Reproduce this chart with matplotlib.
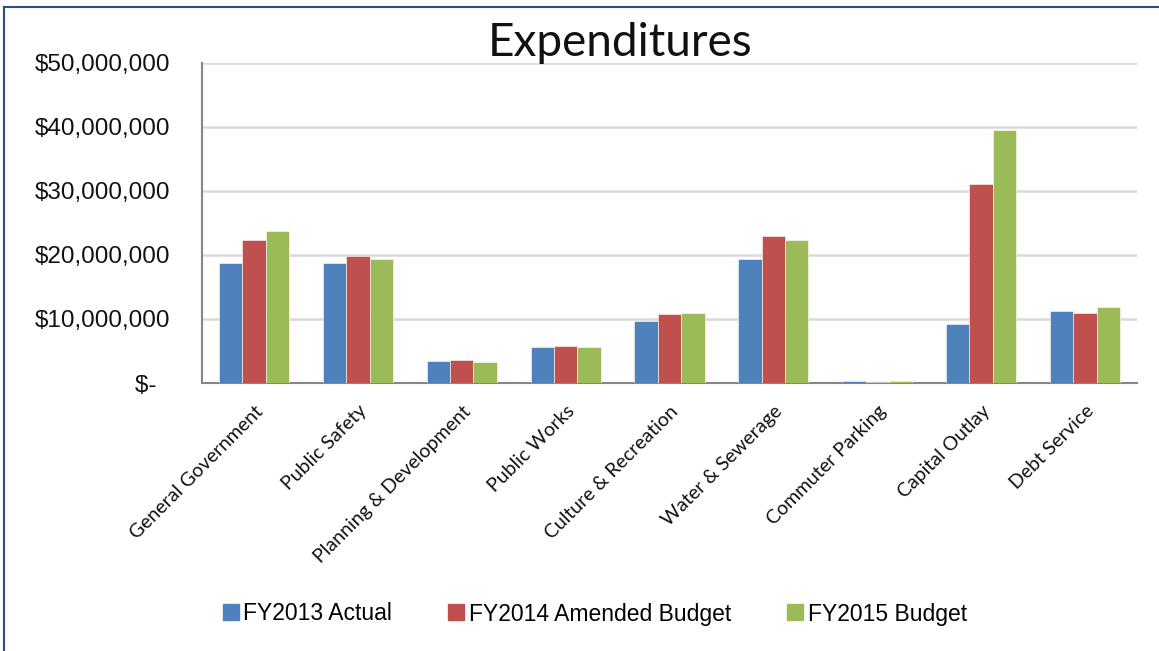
import matplotlib
matplotlib.use("Agg")
import matplotlib.pyplot as plt
from matplotlib.lines import Line2D
from matplotlib.ticker import FuncFormatter
import numpy as np

# expenditures by function, dollars
CATEGORIES = [
    "General Government", "Public Safety", "Planning & Development",
    "Public Works", "Culture & Recreation", "Water & Sewerage",
    "Commuter Parking", "Capital Outlay", "Debt Service",
]
FY2013_ACTUAL = [18_700_000, 18_750_000, 3_400_000, 5_650_000, 9_650_000,
                 19_300_000, 360_000, 9_250_000, 11_200_000]
FY2014_AMENDED = [22_400_000, 19_800_000, 3_650_000, 5_850_000, 10_800_000,
                  23_000_000, 200_000, 31_100_000, 10_900_000]
FY2015_BUDGET = [23_700_000, 19_300_000, 3_300_000, 5_650_000, 10_900_000,
                 22_300_000, 300_000, 39_500_000, 11_950_000]

SERIES = ["FY2013 Actual", "FY2014 Amended Budget", "FY2015 Budget"]
COLORS = ["#4F81BD", "#C0504D", "#9BBB59"]

SANS = ["Liberation Sans", "DejaVu Sans"]
LABEL_FONT = ["Lato", "DejaVu Sans"]

W, H = 1159, 651
fig = plt.figure(figsize=(W / 100, H / 100), dpi=100)
ax = fig.add_axes([202 / W, 1 - 383 / H, (1137 - 202) / W, (383 - 63) / H])

x = np.arange(len(CATEGORIES))
bw = 0.225
for i, (vals, name, col) in enumerate(zip([FY2013_ACTUAL, FY2014_AMENDED, FY2015_BUDGET],
                                          SERIES, COLORS)):
    ax.bar(x + (i - 1) * bw, vals, bw, color=col, label=name,
           edgecolor="white", linewidth=0.4, zorder=3)

ax.set_xlim(-0.5, len(CATEGORIES) - 0.5)
ax.set_ylim(0, 50_000_000)
ax.set_yticks(np.arange(0, 50_000_001, 10_000_000))
ax.yaxis.set_major_formatter(FuncFormatter(
    lambda v, _: "$-  " if v == 0 else f"${v:,.0f}"))
ax.yaxis.grid(True, color="#d9d9d9", lw=1.8, zorder=0)
ax.set_axisbelow(True)

for side in ("top", "right"):
    ax.spines[side].set_visible(False)
for side in ("left", "bottom"):
    ax.spines[side].set_color("#868686")
    ax.spines[side].set_linewidth(1.5)

ax.tick_params(axis="y", length=0, pad=23, labelsize=17.5, colors="#111111")
for t in ax.get_yticklabels():
    t.set_fontfamily(SANS)

ax.set_xticks(x)
ax.set_xticklabels(CATEGORIES, rotation=45, ha="right", va="top",
                   rotation_mode="anchor", fontsize=14, family=LABEL_FONT,
                   color="#111111")
ax.tick_params(axis="x", length=0, pad=14)

fig.text(620 / W, 1 - 43 / H, "Expenditures", ha="center", va="center",
         fontsize=33, fontweight="normal", family=LABEL_FONT, color="#111111")

handles = [Line2D([], [], marker="s", ls="", ms=12, color=c) for c in COLORS]
fig.legend(handles, SERIES, loc="center", bbox_to_anchor=(593 / W, 1 - 614 / H),
           ncol=3, frameon=False, handletextpad=0.05, handlelength=1.0,
           columnspacing=2.3, prop={"family": SANS, "size": 16.5})

# chart frame
fig.add_artist(Line2D([4 / W, 4 / W], [0, 1 - 7 / H], color="#2E4A87", lw=1.5))
fig.add_artist(Line2D([4 / W, 1], [1 - 7 / H, 1 - 7 / H], color="#2E4A87", lw=1.5))

fig.savefig("out.png", dpi=100)
